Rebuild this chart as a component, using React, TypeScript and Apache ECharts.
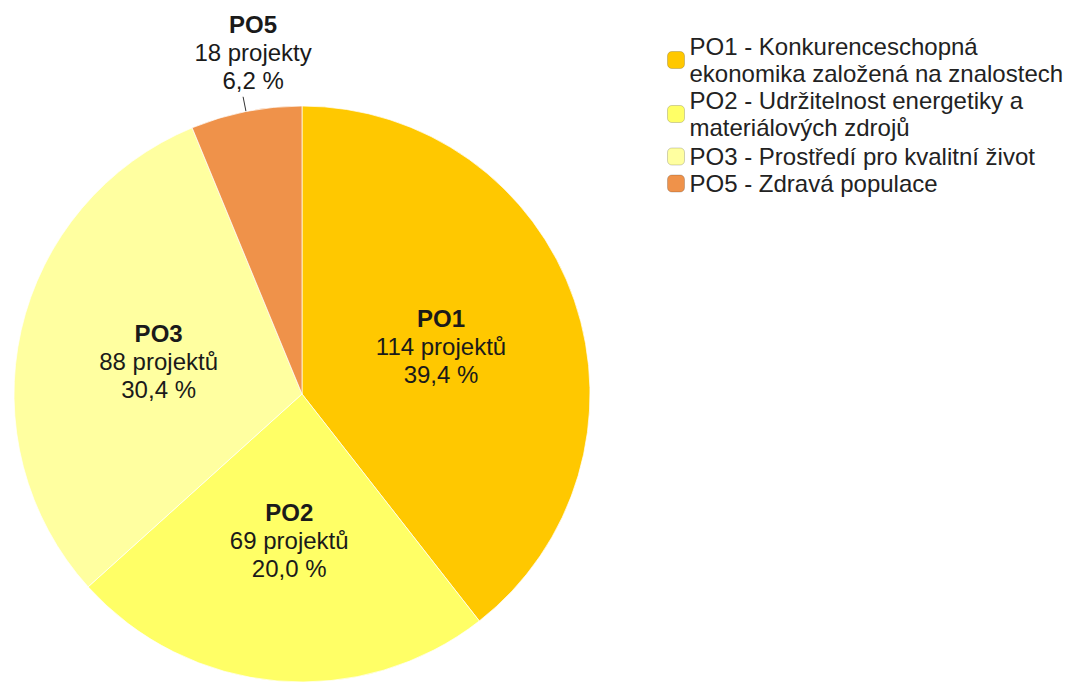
import React, { useEffect, useRef } from "react";
import * as echarts from "echarts";

const codes = ["PO1", "PO2", "PO3", "PO5"];
const counts = [114, 69, 88, 18];
const projectWords = ["projektů", "projektů", "projektů", "projekty"];
const percentLabels = ["39,4 %", "20,0 %", "30,4 %", "6,2 %"];
const legendLabels = [
  "PO1 - Konkurenceschopná\nekonomika založená na znalostech",
  "PO2 - Udržitelnost energetiky a\nmateriálových zdrojů",
  "PO3 - Prostředí pro kvalitní život",
  "PO5 - Zdravá populace",
];
const colors = ["#FFC800", "#FFFF66", "#FFFFA0", "#EF924A"];

const FONT = "'Liberation Sans', Arial, sans-serif";

export default function App() {
  const ref = useRef<HTMLDivElement>(null);
  useEffect(() => {
    document.body.style.margin = "0";
    const chart = echarts.init(ref.current!, null, { renderer: "svg" });
    const legendBase = {
      orient: "vertical" as const,
      left: 667,
      padding: 0,
      itemGap: 0,
      itemWidth: 17,
      itemHeight: 17,
      icon: "roundRect",
      selectedMode: false,
      itemStyle: { borderColor: "rgba(0,0,0,0.18)", borderWidth: 1 },
      textStyle: { fontFamily: FONT, fontSize: 24, lineHeight: 27, color: "#222" },
      formatter: (name: string) => legendLabels[codes.indexOf(name)],
    };
    chart.setOption({
      animation: false,
      color: colors,
      legend: [
        { ...legendBase, top: 33, data: codes.slice(0, 2) },
        { ...legendBase, top: 143, data: codes.slice(2) },
      ],
      series: [
        {
          type: "pie",
          center: [302, 394],
          radius: 288,
          startAngle: 90,
          clockwise: true,
          avoidLabelOverlap: false,
          itemStyle: { borderColor: "rgba(255,255,255,0.7)", borderWidth: 1 },
          label: {
            show: true,
            position: "inside",
            fontFamily: FONT,
            color: "#1a1a1a",
            formatter: (p: any) => {
              const i = p.dataIndex;
              return `{b|${codes[i]}}\n{n|${counts[i]} ${projectWords[i]}}\n{n|${percentLabels[i]}}`;
            },
            rich: {
              b: { fontFamily: FONT, fontSize: 24, fontWeight: "bold", lineHeight: 28, color: "#1a1a1a" },
              n: { fontFamily: FONT, fontSize: 24, lineHeight: 28, color: "#1a1a1a" },
            },
          },
          labelLine: { show: false },
          labelLayout: (params: any) => {
            if (params.dataIndex === 3) {
              return { align: "center", verticalAlign: "bottom", dx: 15, dy: -2 };
            }
            return {};
          },
          emphasis: { disabled: true },
          data: codes.map((c, i) => {
            const item: any = { name: c, value: counts[i] };
            if (i === 3) {
              item.label = { position: "outside" };
              item.labelLine = { show: true, length: 15, length2: 0, lineStyle: { color: "#333", width: 1 } };
            }
            return item;
          }),
        },
      ],
    });
    return () => chart.dispose();
  }, []);
  return <div ref={ref} style={{ width: 1067, height: 685 }} />;
}
